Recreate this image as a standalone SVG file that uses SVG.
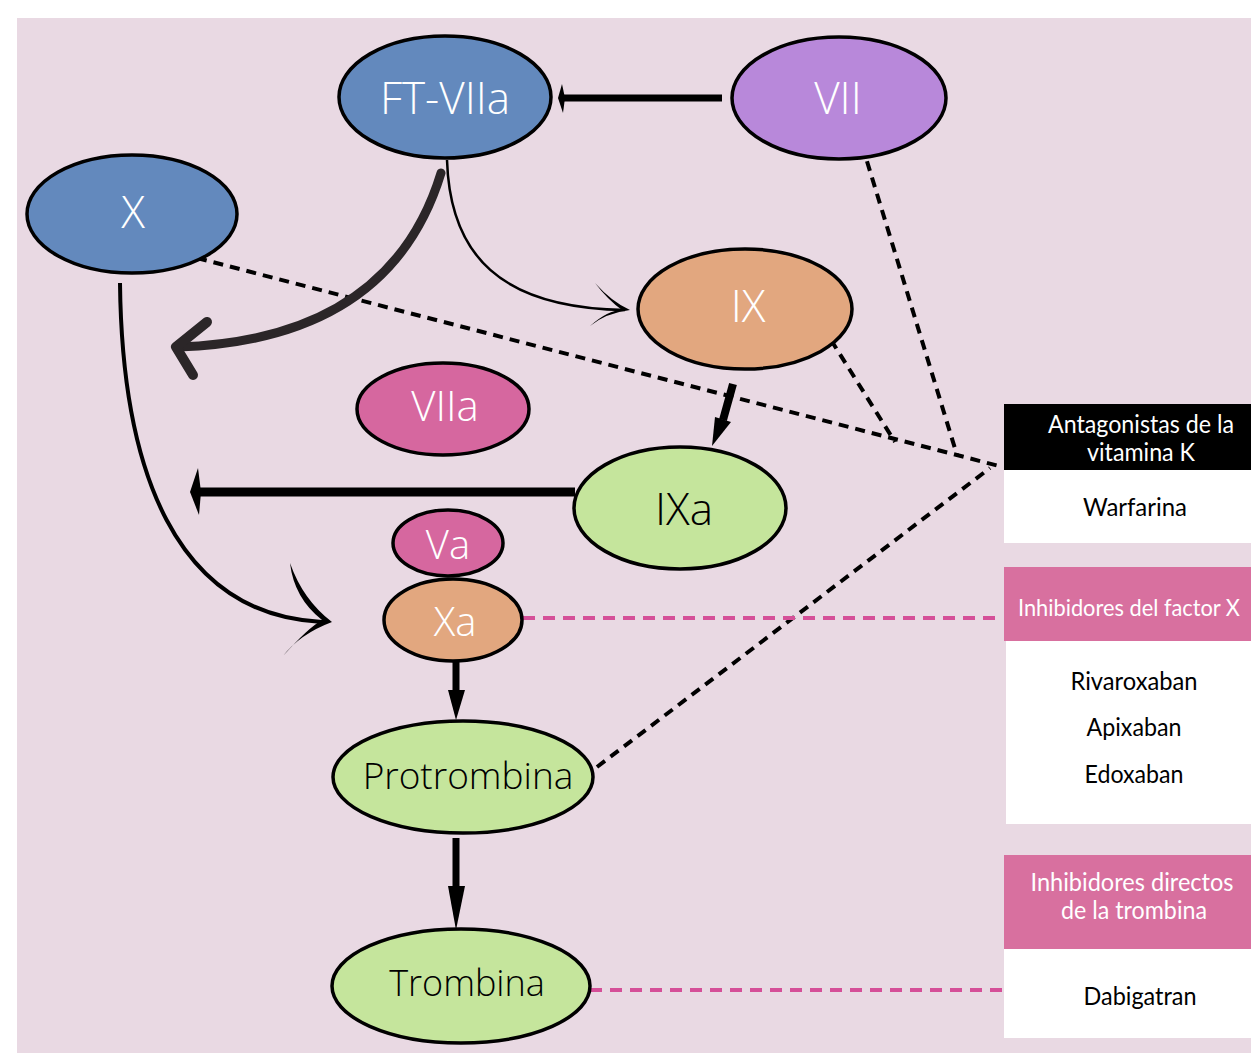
<svg xmlns="http://www.w3.org/2000/svg" width="1251" height="1053" viewBox="0 0 1251 1053">
<style>
.node{stroke:#000;stroke-width:3.5}
.lt{font-family:"Open Sans","Noto Sans",sans-serif;font-weight:300;text-anchor:middle;dominant-baseline:central}
.w{fill:#fff}
.k{fill:#000}
.pt{font-family:Lato,"Open Sans",sans-serif;font-size:25px;text-anchor:middle}
.dash{fill:none;stroke:#000;stroke-width:4;stroke-dasharray:10 7}
.pdash{fill:none;stroke:#d54f98;stroke-width:4;stroke-dasharray:12 8}
</style>
<rect x="0" y="0" width="1251" height="1053" fill="#fff"/>
<rect x="17" y="18" width="1234" height="1035" fill="#e9d9e3"/>

<g id="connectors">
  <path class="dash" d="M197 258 L1003 467"/>
  <path class="dash" d="M862 145 L957 455"/>
  <path class="dash" d="M831 340 L895 442"/>
  <path class="dash" d="M597 767 L990 468"/>
  <path class="pdash" d="M523 618 L1000 618"/>
  <path class="pdash" d="M590 990 L1005 990"/>
  <path d="M722 98 L562 98" stroke="#000" stroke-width="7" fill="none"/>
  <path d="M558 98 L562 84 L565 98 L563 113 Z" fill="#000"/>
  <path d="M441 173 Q 390 340 178 347" fill="none" stroke="#2b2628" stroke-width="9" stroke-linecap="round"/>
  <path d="M207 322 L176 347 L193 375" fill="none" stroke="#2b2628" stroke-width="10" stroke-linecap="round" stroke-linejoin="round"/>
  <path d="M447 160 C 450 255 500 308 625 310" fill="none" stroke="#000" stroke-width="2.5"/>
  <path d="M595 283 Q 612 302 630 310 Q 606 313 590 326 Q 608 310 622 310 Q 608 300 595 283 Z" fill="#000"/>
  <path d="M120 283 C 122 470 175 615 322 622" fill="none" stroke="#000" stroke-width="4"/>
  <path d="M290 563 Q 303 600 332 622 Q 300 634 283 656 Q 308 628 322 620 Q 294 598 290 563 Z" fill="#000"/>
  <path d="M575 492 L197 492" stroke="#000" stroke-width="9" fill="none"/>
  <path d="M190 492 L198 468 L201 492 L199 515 Z" fill="#000"/>
  <path d="M733 384 L723 420" stroke="#000" stroke-width="8" fill="none"/>
  <path d="M715 417 L731 422 L712 446 Z" fill="#000"/>
  <path d="M456 655 L456 692" stroke="#000" stroke-width="7" fill="none"/>
  <path d="M448 690 L465 690 L456 720 Z" fill="#000"/>
  <path d="M456 838 L456 888" stroke="#000" stroke-width="7" fill="none"/>
  <path d="M448 886 L465 886 L456 930 Z" fill="#000"/>
</g>

<g id="FT-VIIa"><ellipse class="node" cx="445" cy="97" rx="106" ry="61" fill="#6389bd"/><text class="lt w" x="445" y="97" font-size="44">FT-VIIa</text></g>
<g id="VII"><ellipse class="node" cx="839" cy="98" rx="107" ry="61" fill="#b888da"/><text class="lt w" x="838" y="97" font-size="44">VII</text></g>
<g id="X"><ellipse class="node" cx="132" cy="214" rx="105" ry="59" fill="#6389bd"/><text class="lt w" x="133" y="211" font-size="44">X</text></g>
<g id="IX"><ellipse class="node" cx="745" cy="309" rx="107" ry="60" fill="#e2a77f"/><text class="lt w" x="748" y="305" font-size="44">IX</text></g>
<g id="VIIa"><ellipse class="node" cx="443" cy="409" rx="86" ry="46" fill="#d6679f"/><text class="lt w" x="445" y="404" font-size="42">VIIa</text></g>
<g id="IXa"><ellipse class="node" cx="680" cy="508" rx="106" ry="61" fill="#c5e59c"/><text class="lt k" x="684" y="508" font-size="44">IXa</text></g>
<g id="Va"><ellipse class="node" cx="448" cy="543" rx="55" ry="33" fill="#d6679f" stroke-width="2.5"/><text class="lt w" x="448" y="543" font-size="40">Va</text></g>
<g id="Xa"><ellipse class="node" cx="453" cy="620" rx="69" ry="41" fill="#e2a77f" stroke-width="2.5"/><text class="lt w" x="455" y="620" font-size="40">Xa</text></g>
<g id="Protrombina"><ellipse class="node" cx="463" cy="777" rx="130" ry="56" fill="#c5e59c" stroke-width="4.5"/><text class="lt k" x="468" y="774" font-size="37">Protrombina</text></g>
<g id="Trombina"><ellipse class="node" cx="461" cy="986" rx="129" ry="57" fill="#c5e59c" stroke-width="4.5"/><text class="lt k" x="467" y="982" font-size="36">Trombina</text></g>

<g id="panel-vka">
  <rect x="1004" y="404" width="247" height="66" fill="#000"/>
  <rect x="1004" y="470" width="247" height="73" fill="#fff"/>
  <text class="pt" x="1141" y="433" fill="#fff" textLength="186" lengthAdjust="spacingAndGlyphs">Antagonistas de la</text>
  <text class="pt" x="1141" y="461" fill="#fff" textLength="108" lengthAdjust="spacingAndGlyphs">vitamina K</text>
  <text class="pt" x="1135" y="516" fill="#000" textLength="104" lengthAdjust="spacingAndGlyphs">Warfarina</text>
</g>
<g id="panel-fx">
  <rect x="1004" y="567" width="247" height="74" fill="#d8709f"/>
  <rect x="1006" y="641" width="245" height="183" fill="#fff"/>
  <text class="pt" x="1129" y="616" fill="#fff" font-size="23" style="font-size:23px" textLength="222" lengthAdjust="spacingAndGlyphs">Inhibidores del factor X</text>
  <text class="pt" x="1134" y="690" fill="#000" textLength="127" lengthAdjust="spacingAndGlyphs">Rivaroxaban</text>
  <text class="pt" x="1134" y="736" fill="#000" textLength="95" lengthAdjust="spacingAndGlyphs">Apixaban</text>
  <text class="pt" x="1134" y="783" fill="#000" textLength="99" lengthAdjust="spacingAndGlyphs">Edoxaban</text>
</g>
<g id="panel-thrombin">
  <rect x="1004" y="855" width="247" height="94" fill="#d8709f"/>
  <rect x="1004" y="949" width="247" height="89" fill="#fff"/>
  <text class="pt" x="1132" y="891" fill="#fff" textLength="203" lengthAdjust="spacingAndGlyphs">Inhibidores directos</text>
  <text class="pt" x="1134" y="919" fill="#fff" textLength="146" lengthAdjust="spacingAndGlyphs">de la trombina</text>
  <text class="pt" x="1140" y="1005" fill="#000" textLength="113" lengthAdjust="spacingAndGlyphs">Dabigatran</text>
</g>
</svg>
